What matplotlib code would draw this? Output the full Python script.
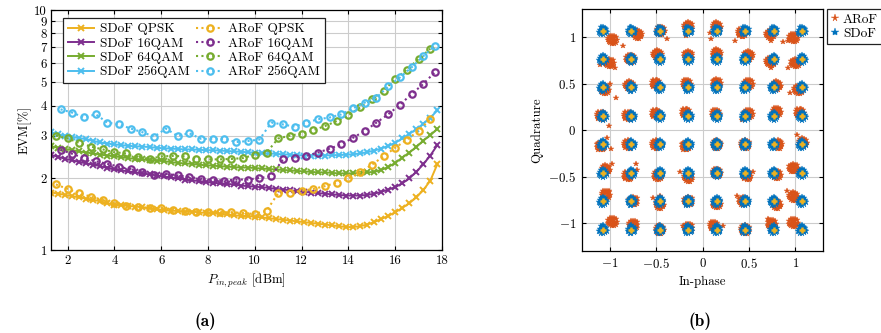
import numpy as np
import matplotlib
matplotlib.use("Agg")
import matplotlib.pyplot as plt
from matplotlib.ticker import FixedLocator, FixedFormatter, NullLocator

plt.rcParams.update({
    "font.family": "serif",
    "font.serif": ["cmr10"],
    "mathtext.fontset": "cm",
    "axes.formatter.use_mathtext": True,
    "font.size": 9.3,
})

# ---------------- data: (a) EVM vs input power ----------------
x_sdof = [1.3, 1.6, 1.9, 2.2, 2.5, 2.8, 3.1, 3.4, 3.7, 4.0, 4.3, 4.6, 4.9, 5.2, 5.5, 5.8,
          6.1, 6.4, 6.7, 7.0, 7.3, 7.6, 7.9, 8.2, 8.5, 8.8, 9.1, 9.4, 9.7, 10.0, 10.3,
          10.6, 10.9, 11.2, 11.5, 11.8, 12.1, 12.4, 12.7, 13.0, 13.3, 13.6, 13.9, 14.2,
          14.5, 14.8, 15.1, 15.4, 15.7, 16.0, 16.3, 16.6, 16.9, 17.2, 17.5, 17.8]
sdof_qpsk = [1.74, 1.72, 1.70, 1.68, 1.66, 1.64, 1.62, 1.60, 1.57, 1.55,
             1.54, 1.53, 1.52, 1.51, 1.50, 1.48, 1.47, 1.46, 1.46, 1.45,
             1.45, 1.44, 1.43, 1.43, 1.42, 1.41, 1.40, 1.39, 1.39, 1.38,
             1.37, 1.36, 1.35, 1.34, 1.33, 1.32, 1.31, 1.30, 1.29, 1.28,
             1.27, 1.26, 1.25, 1.25, 1.26, 1.28, 1.31, 1.35, 1.39, 1.44,
             1.50, 1.57, 1.66, 1.78, 1.95, 2.28]
sdof_16qam = [2.49, 2.45, 2.40, 2.37, 2.33, 2.30, 2.27, 2.24, 2.20, 2.17,
              2.15, 2.13, 2.11, 2.09, 2.07, 2.05, 2.03, 2.01, 1.99, 1.97,
              1.96, 1.94, 1.93, 1.91, 1.90, 1.89, 1.88, 1.86, 1.85, 1.84,
              1.83, 1.82, 1.80, 1.79, 1.78, 1.76, 1.75, 1.74, 1.73, 1.72,
              1.71, 1.70, 1.69, 1.69, 1.69, 1.70, 1.72, 1.75, 1.79, 1.83,
              1.90, 1.99, 2.12, 2.28, 2.48, 2.74]
sdof_64qam = [2.71, 2.67, 2.64, 2.61, 2.58, 2.55, 2.53, 2.50, 2.48, 2.46,
              2.44, 2.42, 2.40, 2.39, 2.37, 2.36, 2.35, 2.33, 2.31, 2.30,
              2.29, 2.27, 2.26, 2.25, 2.24, 2.23, 2.22, 2.21, 2.21, 2.20,
              2.19, 2.18, 2.17, 2.16, 2.15, 2.14, 2.13, 2.12, 2.11, 2.11,
              2.10, 2.09, 2.09, 2.09, 2.10, 2.11, 2.12, 2.16, 2.22, 2.31,
              2.43, 2.55, 2.69, 2.86, 3.01, 3.20]
sdof_256qam = [3.10, 3.04, 2.99, 2.96, 2.93, 2.90, 2.85, 2.81, 2.78, 2.76,
               2.74, 2.72, 2.71, 2.70, 2.69, 2.67, 2.66, 2.65, 2.64, 2.63,
               2.63, 2.62, 2.61, 2.61, 2.60, 2.59, 2.58, 2.57, 2.56, 2.55,
               2.54, 2.53, 2.52, 2.51, 2.50, 2.49, 2.48, 2.48, 2.48, 2.48,
               2.49, 2.49, 2.50, 2.51, 2.53, 2.56, 2.60, 2.65, 2.72, 2.80,
               2.92, 3.05, 3.19, 3.36, 3.56, 3.82]

x_arof_a = [1.5, 2.0, 2.5, 3.0, 3.5, 4.0, 4.5, 5.0, 5.5, 6.0, 6.5, 7.0, 7.5, 8.0, 8.5,
            9.0, 9.5, 10.0, 10.5, 11.0, 11.5, 12.0, 12.5, 13.0, 13.5, 14.0, 14.5, 15.0,
            15.5, 16.0, 16.5, 17.0, 17.5]
x_arof_b = [1.7, 2.2, 2.7, 3.2, 3.7, 4.2, 4.7, 5.2, 5.7, 6.2, 6.7, 7.2, 7.7, 8.2, 8.7,
            9.2, 9.7, 10.2, 10.7, 11.2, 11.7, 12.2, 12.7, 13.2, 13.7, 14.2, 14.7, 15.2,
            15.7, 16.2, 16.7, 17.2, 17.7]
arof_qpsk = [1.88, 1.80, 1.73, 1.67, 1.62, 1.57, 1.53, 1.51, 1.50, 1.50,
             1.47, 1.46, 1.45, 1.45, 1.44, 1.44, 1.43, 1.42, 1.46,
             1.73, 1.74, 1.77, 1.80, 1.85, 1.91, 1.99, 2.11, 2.27, 2.46,
             2.67, 2.89, 3.14, 3.52]
arof_16qam = [2.62, 2.52, 2.42, 2.35, 2.29, 2.23, 2.17, 2.11, 2.06, 2.08,
              2.05, 2.02, 1.98, 1.97, 1.95, 1.97, 1.97, 2.00, 2.03,
              2.39, 2.43, 2.47, 2.55, 2.65, 2.76, 2.94, 3.14, 3.40, 3.68,
              4.03, 4.47, 4.92, 5.52]
arof_64qam = [3.00, 2.92, 2.80, 2.70, 2.63, 2.56, 2.53, 2.44, 2.40, 2.46,
              2.47, 2.46, 2.40, 2.39, 2.39, 2.40, 2.42, 2.50, 2.55,
              2.92, 3.00, 3.06, 3.16, 3.29, 3.45, 3.65, 3.93, 4.26, 4.62,
              5.15, 5.65, 6.25, 6.90]
arof_256qam = [3.86, 3.74, 3.57, 3.68, 3.40, 3.34, 3.21, 3.10, 2.97, 3.21,
               2.99, 3.07, 2.91, 2.91, 2.91, 2.82, 2.85, 2.89,
               3.40, 3.34, 3.27, 3.40, 3.51, 3.57, 3.68, 3.90, 4.12, 4.32, 4.81,
               5.24, 5.77, 6.42, 7.11]

ytick_vals = [1, 2, 3, 4, 5, 6, 7, 8, 9, 10]
ytick_labels = ["1", "2", "3", "4", "5", "6", "7", "8", "9", "10"]
xtick_vals = [2, 4, 6, 8, 10, 12, 14, 16, 18]

# ---------------- data: (b) constellation ----------------
levels = [-1.07, -0.765, -0.46, -0.153, 0.153, 0.46, 0.765, 1.07]
# per-cluster ARoF cloud shift (rows: Q from +1.07 down to -1.07, cols: I from -1.07 to 1.07)
arof_dI = [[0.10, 0.07, 0.01, 0.00, 0.00, -0.035, -0.035, -0.09],
           [0.07, -0.01, -0.025, 0.00, 0.00, 0.035, -0.035, -0.07],
           [0.02, -0.02, -0.04, -0.015, 0.00, 0.035, 0.035, -0.035],
           [-0.02, -0.035, -0.04, -0.025, -0.01, 0.035, 0.035, -0.02],
           [-0.02, -0.035, -0.04, -0.025, 0.00, 0.00, 0.05, 0.01],
           [0.03, -0.035, -0.02, 0.00, 0.00, 0.02, 0.035, -0.09],
           [0.03, 0.02, 0.00, 0.00, 0.00, -0.02, 0.035, -0.09],
           [0.10, 0.02, 0.00, 0.00, -0.03, 0.00, -0.02, -0.09]]
arof_dQ = [[-0.10, -0.04, 0.00, 0.045, 0.045, -0.025, -0.04, -0.08],
           [-0.045, 0.00, 0.05, 0.04, 0.06, 0.04, -0.03, -0.045],
           [-0.025, 0.02, 0.035, 0.035, 0.045, 0.035, 0.02, -0.025],
           [0.00, 0.00, 0.02, 0.03, 0.02, 0.02, 0.045, 0.03],
           [-0.02, 0.00, 0.00, -0.02, 0.00, 0.00, 0.00, 0.02],
           [0.035, -0.035, -0.035, -0.05, 0.00, -0.035, -0.02, 0.05],
           [0.07, 0.00, -0.035, 0.00, -0.03, 0.00, -0.035, 0.05],
           [0.08, 0.05, 0.00, 0.02, 0.04, 0.00, 0.06, 0.07]]
# cloud shapes (hand-read spread around each cluster centre)
sdof_blob_dI = [-0.035, -0.02, 0.0, 0.02, 0.035, 0.04, 0.025, 0.0, -0.02, -0.04,
                -0.015, 0.01, 0.02, -0.005, 0.0, -0.03, 0.03]
sdof_blob_dQ = [0.01, 0.035, 0.045, 0.03, 0.015, -0.01, -0.03, -0.04, -0.035, -0.01,
                0.01, 0.02, -0.01, -0.015, 0.0, -0.02, 0.0]
arof_blob_dI = [-0.045, -0.03, -0.005, 0.015, 0.035, 0.045, 0.035, 0.015, -0.005, -0.03,
                -0.045, -0.02, 0.0, 0.02, -0.015, 0.03, 0.01, -0.035]
arof_blob_dQ = [0.02, 0.04, 0.045, 0.04, 0.03, 0.0, -0.03, -0.045, -0.045, -0.035,
                -0.005, 0.015, 0.02, 0.005, -0.02, -0.015, -0.02, -0.02]
arof_out_I = [-0.857, -0.377, -0.177, 0.080, 0.088, 0.349, 0.742, 0.867, 0.921, -1.100,
              -0.939, 0.742, 0.921, -1.000, -0.928, 0.939, -1.010, 0.420, -1.028, -0.985,
              1.017, -0.975, -0.714, -0.700, -0.241, 0.545, -1.010, -0.535, -0.456, 0.367,
              0.910, -0.206, 0.224, 0.706]
arof_out_Q = [0.907, 0.978, 1.014, 1.050, 0.978, 0.961, 0.961, 0.950, 0.961, 0.703,
              0.667, 0.674, 0.674, 0.495, 0.344, 0.405, 0.047, 0.108, -0.079, -0.204,
              -0.054, -0.366, -0.366, -0.430, -0.455, -0.455, -0.652, -0.735, -0.706, -0.706,
              -0.652, -1.029, -1.029, -0.957]
iq_ticks = [-1, -0.5, 0, 0.5, 1]
iq_tick_labels = ["$-1$", "$-0.5$", "$0$", "$0.5$", "$1$"]

# ---------------- colours ----------------
c_qpsk = "#EDB120"
c_16 = "#7E2F8E"
c_64 = "#77AC30"
c_256 = "#4DBEEE"
c_arof = "#D95319"
c_sdof = "#0072BD"

fig = plt.figure(figsize=(8.81, 3.33), dpi=100)

# ---------------- (a) ----------------
ax = fig.add_axes([0.0579, 0.2483, 0.4438, 0.7217])
sd_kw = dict(linestyle="-", linewidth=1.4, marker="x", markersize=5, markeredgewidth=1.4)
ar_kw = dict(linestyle=(0, (1, 1.6)), linewidth=1.5, marker="o", markersize=4.6,
             markerfacecolor="none", markeredgewidth=1.6)
ax.plot(x_sdof, sdof_qpsk, color=c_qpsk, label="SDoF QPSK", **sd_kw)
ax.plot(x_sdof, sdof_16qam, color=c_16, label="SDoF 16QAM", **sd_kw)
ax.plot(x_sdof, sdof_64qam, color=c_64, label="SDoF 64QAM", **sd_kw)
ax.plot(x_sdof, sdof_256qam, color=c_256, label="SDoF 256QAM", **sd_kw)
ax.plot(x_arof_a, arof_qpsk, color=c_qpsk, label="ARoF QPSK", **ar_kw)
ax.plot(x_arof_b, arof_16qam, color=c_16, label="ARoF 16QAM", **ar_kw)
ax.plot(x_arof_a, arof_64qam, color=c_64, label="ARoF 64QAM", **ar_kw)
ax.plot(x_arof_b, arof_256qam, color=c_256, label="ARoF 256QAM", **ar_kw)

ax.set_yscale("log")
ax.set_xlim(1.29, 18.0)
ax.set_ylim(1, 10)
ax.yaxis.set_major_locator(FixedLocator(ytick_vals))
ax.yaxis.set_major_formatter(FixedFormatter(ytick_labels))
ax.yaxis.set_minor_locator(NullLocator())
ax.xaxis.set_major_locator(FixedLocator(xtick_vals))
ax.xaxis.set_major_formatter(FixedFormatter([str(v) for v in xtick_vals]))
ax.grid(True, color="#cccccc", linewidth=0.8)
ax.set_axisbelow(True)
ax.tick_params(direction="in", top=True, right=True, length=3, pad=3)
for s in ax.spines.values():
    s.set_linewidth(0.9)
ax.set_xlabel(r"$P_{in,peak}$ [dBm]", labelpad=4)
ax.set_ylabel("EVM[%]", labelpad=2)
leg = ax.legend(ncol=2, loc="upper left", bbox_to_anchor=(0.031, 0.965),
                borderaxespad=0, fancybox=False, edgecolor="#222222", framealpha=1,
                handlelength=2.0, handletextpad=0.4, columnspacing=0.5,
                labelspacing=0.15, borderpad=0.35, fontsize=9.6)
leg.get_frame().set_linewidth(0.9)

# ---------------- (b) ----------------
bx = fig.add_axes([0.6603, 0.2462, 0.2742, 0.7258])
lv = np.array(levels)
I0 = np.tile(lv, (8, 1))                      # columns: I
Q0 = np.tile(lv[::-1][:, None], (1, 8))       # rows: Q (top to bottom)
aI = (I0 + np.array(arof_dI))[..., None] + np.array(arof_blob_dI)
aQ = (Q0 + np.array(arof_dQ))[..., None] + np.array(arof_blob_dQ)
aI = np.concatenate([aI.ravel(), arof_out_I])
aQ = np.concatenate([aQ.ravel(), arof_out_Q])
sI = (I0[..., None] + np.array(sdof_blob_dI)).ravel()
sQ = (Q0[..., None] + np.array(sdof_blob_dQ)).ravel()
bx.plot(aI, aQ, linestyle="none", marker="*", markersize=4.2, color=c_arof,
        markeredgewidth=0.3, label="ARoF")
bx.plot(sI, sQ, linestyle="none", marker="*", markersize=4.6, color=c_sdof,
        markeredgewidth=0.3, label="SDoF")
bx.plot(I0.ravel(), Q0.ravel(), linestyle="none", marker="+", markersize=5,
        markeredgewidth=1.8, color=c_qpsk)
bx.set_xlim(-1.3, 1.3)
bx.set_ylim(-1.3, 1.3)
bx.xaxis.set_major_locator(FixedLocator(iq_ticks))
bx.xaxis.set_major_formatter(FixedFormatter(iq_tick_labels))
bx.yaxis.set_major_locator(FixedLocator(iq_ticks))
bx.yaxis.set_major_formatter(FixedFormatter(iq_tick_labels))
bx.grid(True, color="#cccccc", linewidth=0.8)
bx.set_axisbelow(True)
bx.tick_params(direction="in", top=True, right=True, length=3, pad=4)
for s in bx.spines.values():
    s.set_linewidth(0.9)
bx.set_xlabel("In-phase", labelpad=4)
bx.set_ylabel("Quadrature", labelpad=4)
leg2 = bx.legend(loc="upper left", bbox_to_anchor=(1.015, 1.0), borderaxespad=0,
                 fancybox=False, edgecolor="#222222", framealpha=1, handlelength=0.6,
                 handletextpad=0.3, labelspacing=0.15, borderpad=0.3, fontsize=9.6,
                 markerscale=1.3)
leg2.get_frame().set_linewidth(0.9)

fig.text(0.2327, 0.034, "(a)", fontfamily="cmb10", fontsize=12.5, ha="center", va="center")
fig.text(0.7945, 0.034, "(b)", fontfamily="cmb10", fontsize=12.5, ha="center", va="center")

fig.savefig("out.png", dpi=100)
